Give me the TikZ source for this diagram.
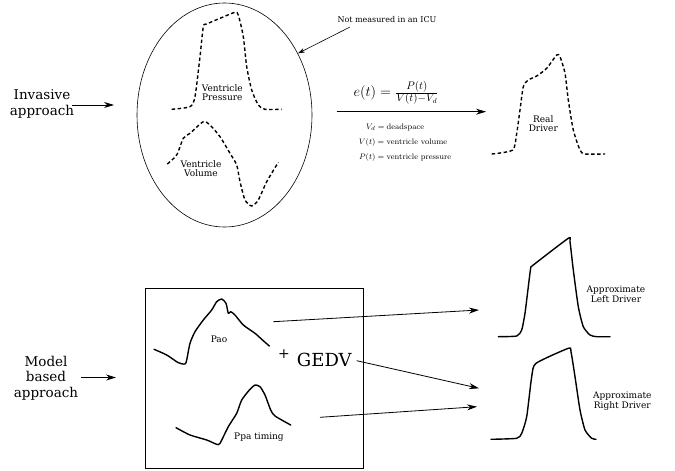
\documentclass[tikz,border=0pt]{standalone}
\usepackage[no-math]{fontspec}
\setmainfont{DejaVu Serif}
\usetikzlibrary{arrows.meta,shapes.geometric}
\begin{document}
\begin{tikzpicture}[x=1pt,y=-1pt,
  lbl/.style={align=center,inner sep=0pt,font=\fontsize{9}{9.5}\selectfont},
  big/.style={align=center,inner sep=0pt,font=\fontsize{13.5}{15.5}\selectfont},
  arr/.style={-{Stealth[length=10pt,width=6pt]},line width=0.8pt},
  dcurve/.style={line width=1.4pt,dash pattern=on 3.5pt off 2.5pt},
  scurve/.style={line width=1.4pt,line cap=round,line join=round}]
\useasboundingbox (0,0) rectangle (675,471);
% ---------- invasive ----------
\node[big] (inv) at (42,104) {Invasive\\approach};
\node[ellipse,draw,line width=0.6pt,minimum width=175pt,minimum height=224pt,inner sep=0pt] (ell) at (224.5,115) {};
\coordinate (invA) at (72,105);
\coordinate (invB) at (114,105);
\draw[arr] (invA) -- (invB);
\draw[dcurve] plot[smooth,tension=0.4] coordinates {(171.7,109.3) (190,106.7) (195,96.7) (200,56.7) (203.3,26.7) (206.7,24) (220,18.3) (235,12.3) (238.3,15) (243.3,36.7) (246.7,66.7) (251.7,90) (258.3,105) (265,109.3) (281.7,109.3)};
\node[lbl] (vp) at (222.3,92.5) {Ventricle\\Pressure};
\draw[dcurve] plot[smooth,tension=0.4] coordinates {(167.3,164) (176.7,155) (183.3,138.3) (190,133.3) (203.3,121.7) (210,125) (220,136.7) (230,153.3) (236.7,165) (240,181.7) (245,200) (251.7,206) (258.3,200) (266.7,181.7) (278.3,162.3)};
\node[lbl] (vv) at (201,168.5) {Ventricle\\Volume};
\node[lbl,font=\fontsize{8}{9}\selectfont] (nm) at (387,20) {Not measured in an ICU};
\coordinate (nmA) at (350,27);
\draw[-{Stealth[length=7pt,width=4.5pt]},line width=0.6pt] (nmA) -- (ell.40);
\node[inner sep=0pt,font=\fontsize{15}{16}\selectfont] (eq) at (396,93) {$e(t)=\frac{P(t)}{V(t)-V_d}$};
\coordinate (eqA) at (336.7,111.7);
\coordinate (eqB) at (486,111.7);
\draw[arr] (eqA) -- (eqB);
\node[inner sep=0pt,font=\fontsize{8.4}{15}\selectfont] (leg) at (405,141) {$\begin{array}{r@{\;=\;}l}
V_d & \mathrm{deadspace}\\
V(t) & \mathrm{ventricle\ volume}\\
P(t) & \mathrm{ventricle\ pressure}\end{array}$};
\draw[dcurve] plot[smooth,tension=0.4] coordinates {(491.7,154) (512.7,150) (516.7,133.3) (520,110) (523.3,86.7) (528.3,80) (536.7,76) (546.7,68.3) (556.7,55) (560,56.7) (565,73.3) (568.3,100) (573.3,130) (580,150) (585,154) (605,154)};
\node[lbl] (rd) at (543.3,123.5) {Real\\Driver};
% ---------- model based ----------
\node[big] (mod) at (46,378) {Model\\based\\approach};
\node[draw,line width=0.6pt,minimum width=218.3pt,minimum height=180pt,inner sep=0pt] (box) at (254.2,378.3) {};
\coordinate (modA) at (81,377.5);
\coordinate (modB) at (116,377.5);
\draw[arr] (modA) -- (modB);
\draw[scurve] plot[smooth,tension=0.4] coordinates {(154,349.3) (166.7,355) (178.3,362.7) (185,364) (186.7,360) (190,343.3) (195,331.7) (203.3,320) (211.7,310) (216.7,301.7) (221.7,299) (226,303.3) (228.3,313.3) (230.7,311.7) (235,315) (243.3,325) (255,333.3) (261.7,339.3) (269.3,346)};
\node[lbl] (pao) at (219,339) {Pao};
\draw[scurve] plot[smooth,tension=0.4] coordinates {(176,427.7) (190,435) (206.7,440) (216.7,444.3) (220,443.3) (228.3,426.7) (236.7,413.3) (241.7,400) (250,389.3) (255,385) (260,386.7) (265,395) (270.7,410) (275,416) (290.7,425)};
\node[lbl] (ppa) at (259,436.7) {Ppa timing};
\node[inner sep=0pt,font=\fontsize{14}{14}\selectfont] (plus) at (284,354.3) {+};
\node[inner sep=0pt,font=\fontsize{18}{18}\selectfont] (gedv) at (324.3,359.5) {GEDV};
% drivers
\draw[scurve] plot[smooth,tension=0.35] coordinates {(498.3,336.7) (516.7,336) (521.7,330) (525,313.3) (528.3,286.7) (530.7,268.3) (533.3,265) (568.3,238.3) (570,241.7) (573.3,270) (578.3,306.7) (583.3,326.7) (590,335) (596.7,336.7) (610,336.7)};
\node[lbl] (ld) at (616,294.5) {Approximate\\Left Driver};
\draw[scurve] plot[smooth,tension=0.35] coordinates {(491,439.3) (516.7,438.3) (521.7,433.3) (526.7,416.7) (531.7,376.7) (536,363.3) (568.3,348.3) (571,351.7) (575,376.7) (580,410) (585,430) (591.7,438.3) (596,439.3)};
\node[lbl] (rdr) at (622.3,401) {Approximate\\Right Driver};
\coordinate (pA) at (273.3,321.7);
\coordinate (pB) at (479,310);
\coordinate (gA) at (356.7,360.7);
\coordinate (gB) at (479,388.3);
\coordinate (qA) at (320,417.3);
\coordinate (qB) at (477,406.7);
\draw[arr] (pA) -- (pB);
\draw[arr] (gA) -- (gB);
\draw[arr] (qA) -- (qB);
\end{tikzpicture}
\end{document}
